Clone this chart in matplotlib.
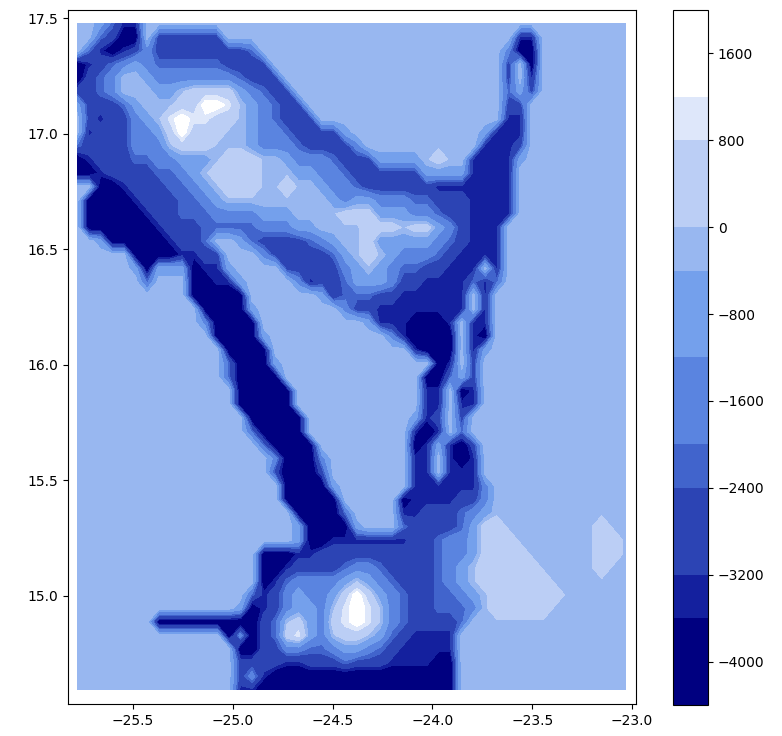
import numpy as np
import matplotlib
matplotlib.use("Agg")
import matplotlib.pyplot as plt

# Depth, one character per grid node, north to south.
# Each digit is an index into band_depth.
band_depth = [-4390, -3400, -2800, -2200, -1600, -800, -100, 400, 1000, 1600]
depth_rows = [
 "66531166 66666666 66666666 66666666 66666666 66666666",
 "66320062 22222666 66666666 66666666 66666611 66666666",
 "63101242 22222223 66666666 66666666 66666400 66666666",
 "01234543 33333222 26666666 66666666 66666260 66666666",
 "02346654 44444432 22666666 66666666 66666261 66666666",
 "22346665 56777754 32266666 66666666 66666352 66666666",
 "52223566 67799865 43226666 66666666 66666226 66666666",
 "62122456 89887765 43222666 66666666 66666116 66666666",
 "61222445 79777665 44322225 66666666 66651116 66666666",
 "32222444 67776665 44432222 46666666 66611126 66666666",
 "01222334 45556777 66544432 22555567 66111156 66666666",
 "00122223 34567777 66655443 22222255 55111166 66666666",
 "66001222 33456777 66766544 32222221 11111166 66666666",
 "60000122 23345666 66666654 55444332 22111166 66666666",
 "60000012 23334444 55566667 77555443 22111166 66666666",
 "60000001 22233333 44455666 67776775 42111666 66666666",
 "66500000 12236653 22223456 67555554 32111666 66666666",
 "66666000 01122666 42222235 67654443 21111666 66666666",
 "66666505 55011566 66222224 56543322 11161666 66666666",
 "66666636 66001156 66641223 55542211 11313666 66666666",
 "66666666 66000006 66666513 33221111 11616666 66666666",
 "66666666 66600005 66666664 22111111 11616666 66666666",
 "66666666 66640000 66666666 65111000 16116666 66666666",
 "66666666 66660000 56666666 66641000 06106666 66666666",
 "66666666 66666000 06666666 66666100 06156666 66666666",
 "66666666 66666300 05666666 66666660 16266666 66666666",
 "66666666 66666300 00666666 66666600 35266666 66666666",
 "66666666 66666600 00066666 66666611 60166666 66666666",
 "66666666 66666600 00066666 66666611 61166666 66666666",
 "66666666 66666660 00006666 66666512 62666666 66666666",
 "66666666 66666663 00006666 66666101 63666666 66666666",
 "66666666 66666666 30000666 66666015 10266666 66666666",
 "66666666 66666666 64000466 66666116 10166666 66666666",
 "66666666 66666666 62000266 66666116 11166666 66666666",
 "66666666 66666666 66000056 66666111 11146666 66666666",
 "66666666 66666666 66000006 66660111 12246666 66666666",
 "66666666 66666666 66600003 66661122 23456666 66666666",
 "66666666 66666666 66650000 56663222 23577666 66666766",
 "66666666 66666666 66650011 11111223 44577766 66666776",
 "66666666 66666666 00011222 22222223 44577776 66666776",
 "66666666 66666666 00122223 44322223 45677777 66666766",
 "66666666 66666666 01344445 65432223 45677777 76666666",
 "66666666 66666663 12454457 97543223 34567777 77666666",
 "66666666 66666650 12455468 98643223 33467777 76666666",
 "66666660 00000000 23675478 98643222 23666666 66666666",
 "66666666 66666040 23785467 76532111 16666666 66666666",
 "66666666 66666600 22443345 54321111 16666666 66666666",
 "66666666 66666622 22112223 22211110 06666666 66666666",
 "66666666 66666624 10000000 00000000 06666666 66666666",
 "66666666 66666611 00000000 00000000 06666666 66666666",
]
levels = [-4400, -3600, -3200, -2400, -2000, -1200, -400, 0, 800, 1200, 2000]
band_colors = ["#000080", "#14209E", "#2C44B4", "#4164CC", "#5A84E0",
               "#74A0EC", "#98B7F0", "#BBCEF5", "#DEE7FA", "#FFFFFF"]
cbar_ticks = [-4000, -3200, -2400, -1600, -800, 0, 800, 1600]
x_ticks = [-25.5, -25.0, -24.5, -24.0, -23.5, -23.0]
y_ticks = [15.0, 15.5, 16.0, 16.5, 17.0, 17.5]
lon_range = (-25.78, -23.035)
lat_range = (17.478, 14.593)

W, H = 782, 736
fig = plt.figure(figsize=(W / 100, H / 100), dpi=100)
ax = fig.add_axes([68 / W, 1 - 704 / H, (636 - 68) / W, (704 - 10) / H])
cax = fig.add_axes([673 / W, 1 - 705 / H, (708 - 673) / W, (705 - 10) / H])

z = np.array([[band_depth[int(c)] for c in r.replace(" ", "")] for r in depth_rows], float)
lon = np.linspace(*lon_range, z.shape[1])
lat = np.linspace(*lat_range, z.shape[0])

cs = ax.contourf(lon, lat, z, levels=levels, colors=band_colors)
ax.set_xlim(-25.826, -22.98)
ax.set_ylim(14.532, 17.536)
ax.set_xticks(x_ticks)
ax.set_yticks(y_ticks)
ax.tick_params(labelsize=10)

cb = fig.colorbar(cs, cax=cax, spacing="proportional", ticks=cbar_ticks)
cb.ax.tick_params(labelsize=10)

fig.savefig("out.png", dpi=100)
